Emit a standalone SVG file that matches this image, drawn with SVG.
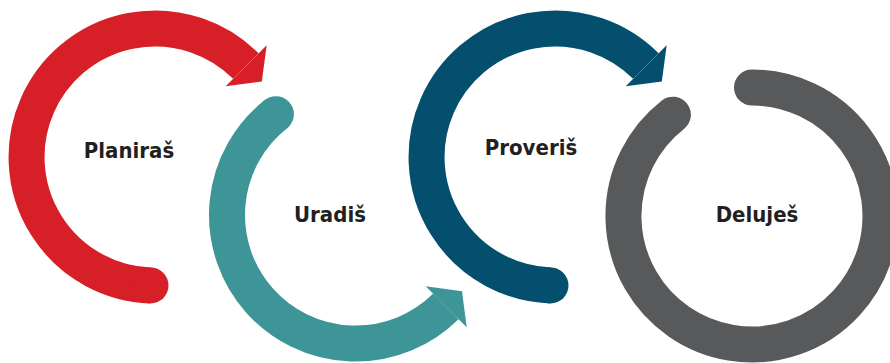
<svg xmlns="http://www.w3.org/2000/svg" width="890" height="363" viewBox="0 0 890 363">
  <style>
    .band { fill: none; stroke-width: 36; stroke-linecap: butt; }
    .label { font-family: "DejaVu Sans Condensed", "DejaVu Sans", sans-serif; font-weight: bold; font-size: 22px; fill: #231f20; text-anchor: middle; }
    .red { stroke: #d71f27; } .redf { fill: #d71f27; }
    .teal { stroke: #3e9598; } .tealf { fill: #3e9598; }
    .blue { stroke: #044f6d; } .bluef { fill: #044f6d; }
    .gray { stroke: #58595b; } .grayf { fill: #58595b; }
  </style>
  <rect width="890" height="363" fill="#ffffff"/>

  <g id="node-planiras">
    <path class="band red" d="M150.5,285.4 A128.5,128.5 0 1 1 245.9,66.1"/>
    <circle class="redf" cx="150.5" cy="285.4" r="18"/>
    <polygon class="redf" points="266.7,45.3 261.8,81.4 225.7,86.3"/>
    <text class="label" x="129" y="158">Planiraš</text>
  </g>

  <g id="node-uradis">
    <path class="band teal" d="M275.9,114.2 A128.5,128.5 0 1 0 445.9,306.4"/>
    <circle class="tealf" cx="275.9" cy="114.2" r="18"/>
    <polygon class="tealf" points="466.7,327.2 462.0,291.3 425.7,286.2"/>
    <text class="label" x="330" y="222">Uradiš</text>
  </g>

  <g id="node-proveris">
    <path class="band blue" d="M550.5,285.4 A128.5,128.5 0 1 1 645.9,66.1"/>
    <circle class="bluef" cx="550.5" cy="285.4" r="18"/>
    <polygon class="bluef" points="666.7,45.3 661.8,81.4 625.7,86.3"/>
    <text class="label" x="531" y="155">Proveriš</text>
  </g>

  <g id="node-delujes">
    <path class="band gray" style="stroke-linecap:round" d="M672.9,114.7 A128.5,128.5 0 1 0 752,87.5"/>
    <text class="label" x="757" y="222">Deluješ</text>
  </g>
</svg>
